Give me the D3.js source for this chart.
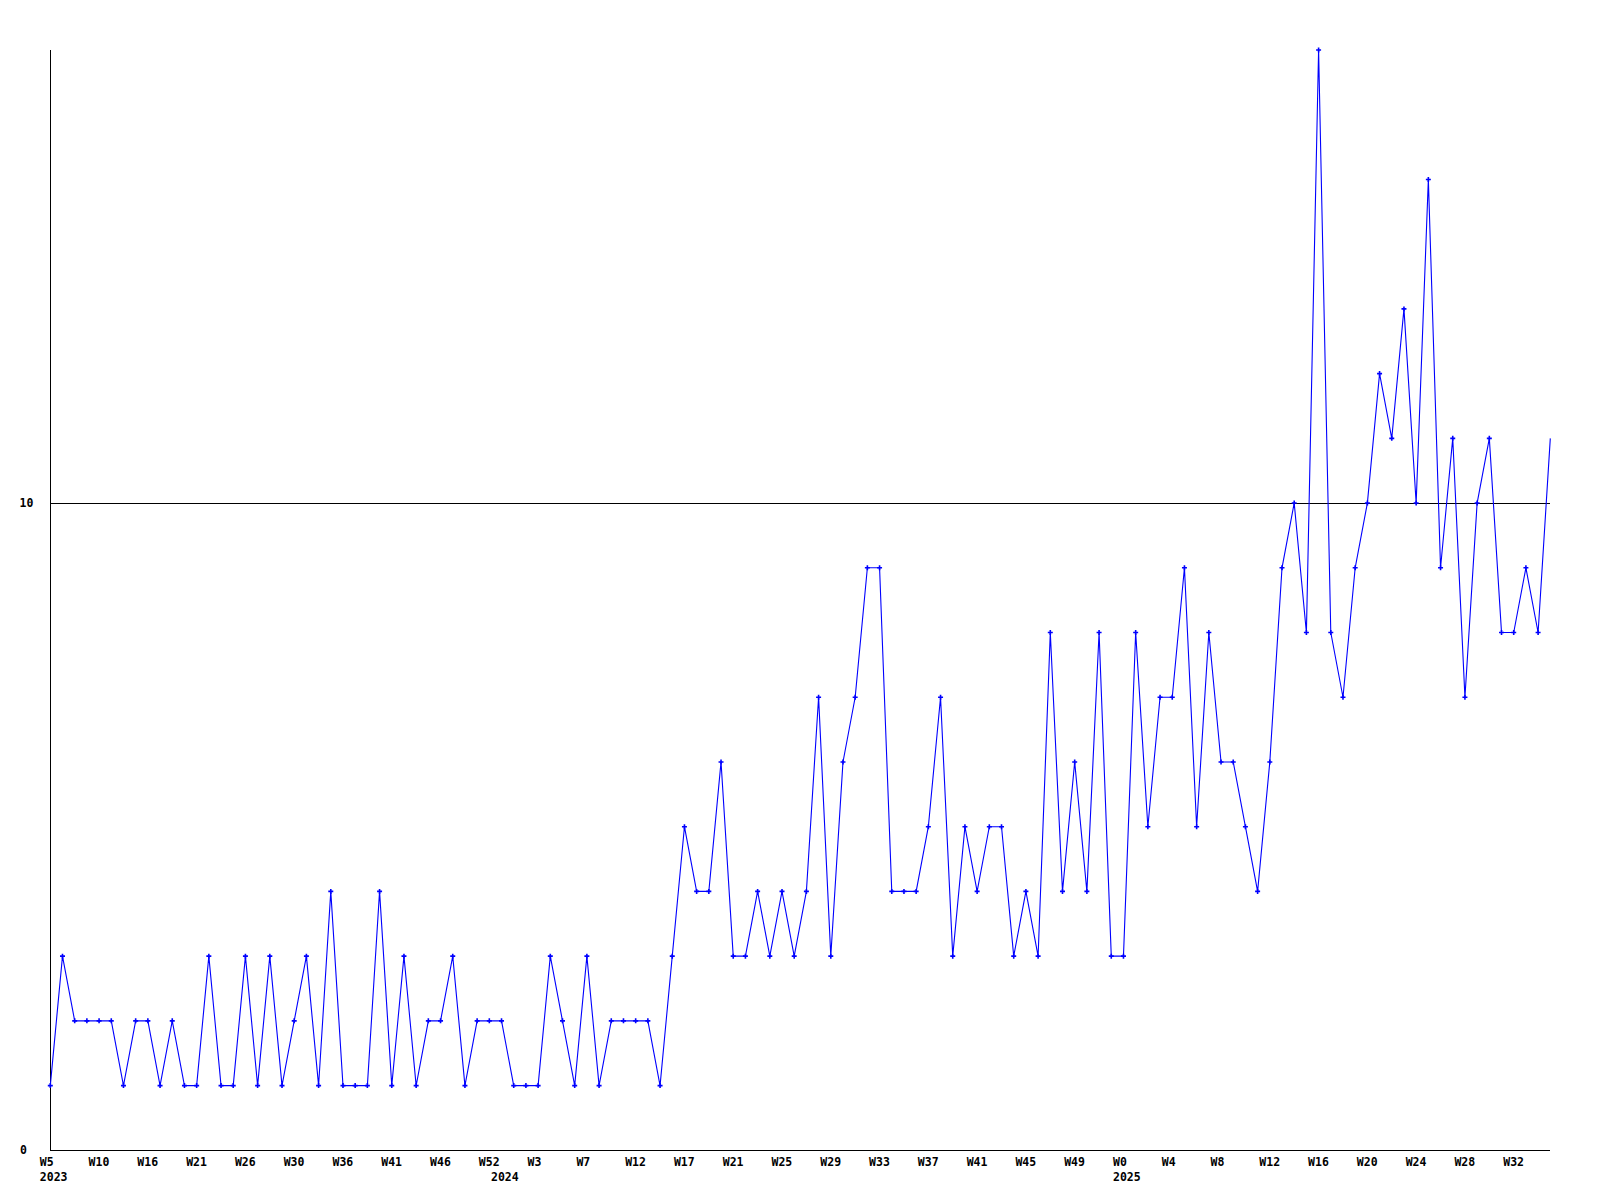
<!DOCTYPE html>
<html>
<head>
<meta charset="utf-8">
<script src="https://cdn.jsdelivr.net/npm/d3@7"></script>
<style>
  html, body { margin: 0; padding: 0; background: #fff; }
  svg { display: block; }
  text { font-family: "DejaVu Sans Mono", "Liberation Mono", monospace; font-weight: bold; font-size: 11.5px; fill: #000; }
</style>
</head>
<body>
<svg id="chart" width="1600" height="1200"></svg>
<script>
const values = [
  1,3,2,2,2,2,1,2,2,1,
  2,1,1,3,1,1,3,1,3,1,
  2,3,1,4,1,1,1,4,1,3,
  1,2,2,3,1,2,2,2,1,1,
  1,3,2,1,3,1,2,2,2,2,
  1,3,5,4,4,6,3,3,4,3,
  4,3,4,7,3,6,7,9,9,4,
  4,4,5,7,3,5,4,5,5,3,
  4,3,8,4,6,4,8,3,3,8,
  5,7,7,9,5,8,6,6,5,4,
  6,9,10,8,17,8,7,9,10,12,
  11,13,10,15,9,11,7,10,11,8,
  8,9,8,11
];
const tickLabels = ["W5","W10","W16","W21","W26","W30","W36","W41","W46","W52","W3","W7","W12","W17","W21","W25","W29","W33","W37","W41","W45","W49","W0","W4","W8","W12","W16","W20","W24","W28","W32"];
const tickStep = 4;
const yearLabels = ["2023","2024","2025"];
const yearIndex = [0, 37, 88];
const yTicks = [0, 10];

const svg = d3.select("#chart");
const x = d3.scaleLinear().domain([0, values.length - 1]).range([50.3, 1550.3]);
const y = d3.scaleLinear().domain([0, 17]).range([1150.3, 50]);

// horizontal grid line at 10
svg.append("line")
  .attr("x1", x(0)).attr("x2", x(values.length - 1))
  .attr("y1", Math.round(y(10)) + 0.5).attr("y2", Math.round(y(10)) + 0.5)
  .attr("stroke", "#000").attr("stroke-width", 1).attr("shape-rendering", "crispEdges");

// axes
svg.append("line")
  .attr("x1", 50.5).attr("x2", 50.5)
  .attr("y1", y(17)).attr("y2", Math.round(y(0)) + 0.5)
  .attr("stroke", "#000").attr("stroke-width", 1).attr("shape-rendering", "crispEdges");
svg.append("line")
  .attr("x1", 50).attr("x2", x(values.length - 1))
  .attr("y1", Math.round(y(0)) + 0.5).attr("y2", Math.round(y(0)) + 0.5)
  .attr("stroke", "#000").attr("stroke-width", 1).attr("shape-rendering", "crispEdges");

// y labels
svg.selectAll("text.ylab").data(yTicks).enter().append("text")
  .attr("class", "ylab")
  .attr("x", d => d === 0 ? 20 : 19.5)
  .attr("y", d => y(d) + 4)
  .text(d => d);

// x tick labels
svg.selectAll("text.tick").data(tickLabels).enter().append("text")
  .attr("class", "tick")
  .attr("x", (d, i) => x(i * tickStep) - 10.5)
  .attr("y", 1166)
  .text(d => d);

svg.selectAll("text.year").data(yearLabels).enter().append("text")
  .attr("class", "year")
  .attr("x", (d, i) => x(yearIndex[i]) - 10.5)
  .attr("y", 1181)
  .text(d => d);

// line
const line = d3.line().x((d, i) => x(i)).y(d => y(d));
svg.append("path")
  .datum(values)
  .attr("d", line)
  .attr("fill", "none")
  .attr("stroke", "#0000ff")
  .attr("stroke-width", 1.1);

// markers (+)
svg.selectAll("path.mk").data(values.slice(0, values.length - 1)).enter().append("path")
  .attr("class", "mk")
  .attr("d", (d, i) => {
    const cx = x(i), cy = y(d);
    return `M${cx - 2.5},${cy}H${cx + 2.5}M${cx},${cy - 2.5}V${cy + 2.5}`;
  })
  .attr("stroke", "#0000ff")
  .attr("stroke-width", 1.6)
  .attr("fill", "none");
</script>
</body>
</html>
